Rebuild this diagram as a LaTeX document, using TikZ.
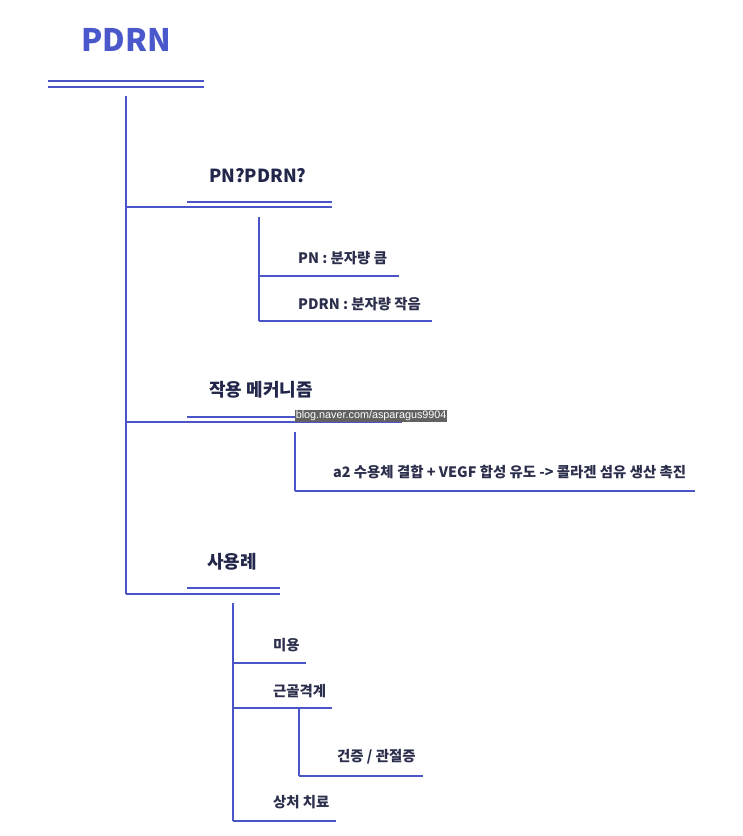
\documentclass[tikz,border=0pt]{standalone}
\usepackage{fontspec}
\setmainfont{Noto Sans CJK KR}
\newfontfamily\wmfont{Liberation Sans}
\definecolor{lineblue}{HTML}{4A55C8}
\definecolor{titleblue}{HTML}{4A58CC}
\definecolor{headnavy}{HTML}{22264A}
\definecolor{bodynavy}{HTML}{2C2F4C}
\tikzset{
  branch/.style={draw=lineblue, line width=2.8pt},
  titletext/.style={font=\fontsize{31}{31}\selectfont\bfseries, text=titleblue, inner sep=0pt},
  headtext/.style={font=\fontsize{18}{18}\selectfont\bfseries, text=headnavy, inner sep=0pt, anchor=west},
  bodytext/.style={font=\fontsize{14.4}{15}\selectfont\bfseries, text=bodynavy, inner sep=0pt, anchor=west},
  watermark/.style={font=\wmfont\fontsize{10.8}{11}\selectfont, text=white, fill=black!62, inner sep=0.6pt, anchor=west}
}
\begin{document}
\begin{tikzpicture}[x=1pt,y=-1pt]
\useasboundingbox (0,0) rectangle (743,836);
\fill[white] (0,0) rectangle (743,836);
% title
\node[titletext] (title) at (126,40) {PDRN};
\coordinate (tl1) at (48,81); \coordinate (tr1) at (204,81);
\coordinate (tl2) at (48,87); \coordinate (tr2) at (204,87);
\draw[branch] (tl1) -- (tr1);
\draw[branch] (tl2) -- (tr2);
% trunk
\coordinate (t0) at (126,96);
\coordinate (b1) at (126,207);
\coordinate (b2) at (126,422);
\coordinate (b3) at (126,594);
\draw[branch] (t0) -- (b3);
% --- PN?PDRN?
\node[headtext] (h1) at (209,176) {PN?PDRN?};
\coordinate (h1u0) at (187,202); \coordinate (h1u1) at (332,202);
\coordinate (h1l1) at (332,207);
\draw[branch] (h1u0) -- (h1u1);
\draw[branch] (b1) -- (h1l1);
\coordinate (s1t) at (259,217);
\coordinate (s1a) at (259,276); \coordinate (s1ae) at (399,276);
\coordinate (s1b) at (259,321); \coordinate (s1be) at (432,321);
\draw[branch] (s1t) -- (s1b);
\draw[branch] (s1a) -- (s1ae);
\draw[branch] (s1b) -- (s1be);
\node[bodytext] (pn) at (298,258) {PN : 분자량 큼};
\node[bodytext] (pdrn) at (298,304) {PDRN : 분자량 작음};
% --- 작용 메커니즘
\node[headtext] (h2) at (209,390) {작용 메커니즘};
\coordinate (h2u0) at (187,417); \coordinate (h2u1) at (402,417);
\coordinate (h2l1) at (402,422);
\draw[branch] (h2u0) -- (h2u1);
\draw[branch] (b2) -- (h2l1);
\coordinate (s2t) at (295,432);
\coordinate (s2b) at (295,491); \coordinate (s2be) at (695,491);
\draw[branch] (s2t) -- (s2b);
\draw[branch] (s2b) -- (s2be);
\node[bodytext] (mech) at (333,472) {a2 수용체 결합 + VEGF 합성 유도 -> 콜라겐 섬유 생산 촉진};
\node[watermark] (wm) at (295,416) {blog.naver.com/asparagus9904};
% --- 사용례
\node[headtext] (h3) at (207,562) {사용례};
\coordinate (h3u0) at (187,588); \coordinate (h3u1) at (280,588);
\coordinate (h3l1) at (280,594);
\draw[branch] (h3u0) -- (h3u1);
\draw[branch] (b3) -- (h3l1);
\coordinate (s3t) at (233,603);
\coordinate (s3a) at (233,663); \coordinate (s3ae) at (306,663);
\coordinate (s3b) at (233,708); \coordinate (s3be) at (332,708);
\coordinate (s3c) at (233,821); \coordinate (s3ce) at (336,821);
\draw[branch] (s3t) -- (s3c);
\draw[branch] (s3a) -- (s3ae);
\draw[branch] (s3b) -- (s3be);
\draw[branch] (s3c) -- (s3ce);
\coordinate (s4t) at (299,708);
\coordinate (s4b) at (299,776); \coordinate (s4be) at (423,776);
\draw[branch] (s4t) -- (s4b);
\draw[branch] (s4b) -- (s4be);
\node[bodytext] (u1) at (273,645) {미용};
\node[bodytext] (u2) at (273,691) {근골격계};
\node[bodytext] (u3) at (337,757) {건증 / 관절증};
\node[bodytext] (u4) at (273,802) {상처 치료};
\end{tikzpicture}
\end{document}
